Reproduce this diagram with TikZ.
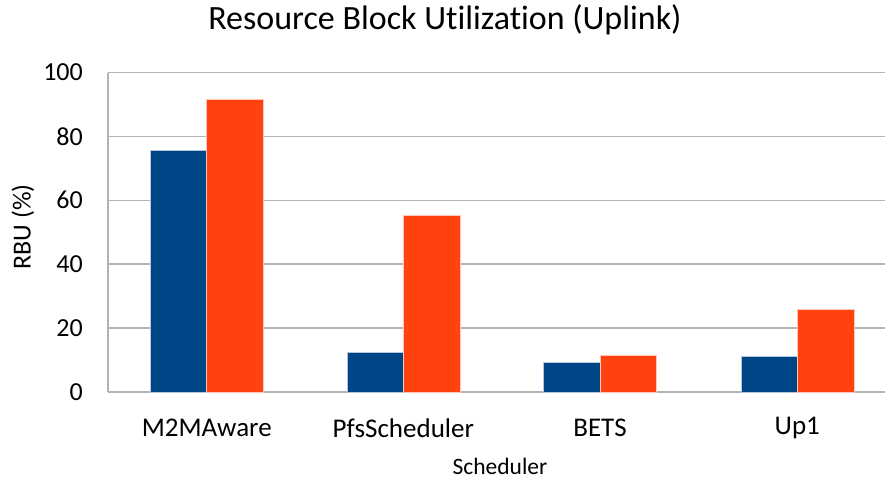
\documentclass[tikz,border=0pt]{standalone}
\usepackage{fontspec}
\setmainfont{Carlito}[Ligatures=NoCommon]
\definecolor{barblue}{HTML}{004586}
\definecolor{barorange}{HTML}{FF420E}
\definecolor{gridgray}{HTML}{B3B3B3}
\tikzset{
    grid line/.style = {draw=gridgray, line width=1.6pt},
    bar/.style = {draw=white!70!#1, line width=0.5pt, fill=#1},
    tick label/.style = {anchor=east, font=\fontsize{26}{26}\selectfont, inner sep=0pt},
    cat label/.style = {font=\fontsize{27}{27}\selectfont, inner sep=0pt},
}
\begin{document}
\begin{tikzpicture}[x=1pt, y=-1pt]
    \useasboundingbox (0,0) rectangle (885,479);

    % grid and value axis, 0 at 392, 100 at 72.5
    \foreach \v in {0,20,...,100} {
        \draw[grid line] (108,{392-3.195*\v}) -- (885,{392-3.195*\v});
        \node[tick label] (tick\v) at (83,{392-3.195*\v}) {\v};
    }
    \draw[grid line] (108,72.5) -- (108,392);

    % bars: name/centre/blue/orange
    \foreach \c/\x/\b/\o in {m2m/206.7/75.8/91.5, pfs/403.3/12.4/55.4, bets/600/9.2/11.5, upone/797.3/11.3/26.0} {
        \fill[bar=barblue] (\x-56.5,392) rectangle (\x,{392-3.195*\b});
        \fill[bar=barorange] (\x,392) rectangle (\x+56.5,{392-3.195*\o});
        \coordinate (\c) at (\x,428);
    }

    \node[cat label] (lm2m) at (m2m) {M2MAware};
    \node[cat label] (lpfs) at (pfs) {PfsScheduler};
    \node[cat label] (lbets) at (bets) {BETS};
    \node[cat label] (lup) at (upone) {Up1};

    \node[font=\fontsize{23.5}{23.5}\selectfont] (xtitle) at (500,466) {Scheduler};
    \node[font=\fontsize{26}{26}\selectfont, rotate=90] (ytitle) at (23,227) {RBU (\%)};
    \node[font=\fontsize{34}{34}\selectfont] (title) at (445,20) {Resource Block Utilization (Uplink)};
\end{tikzpicture}
\end{document}
